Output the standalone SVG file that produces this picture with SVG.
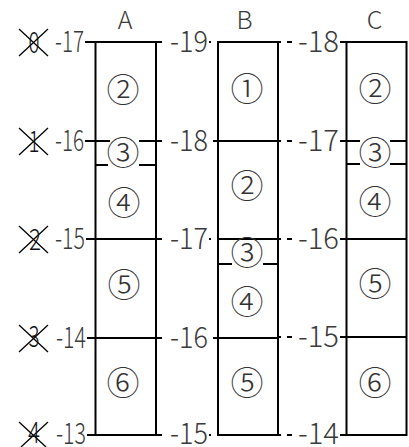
<svg xmlns="http://www.w3.org/2000/svg" width="409" height="447" viewBox="0 0 409 447">
<style>
.bg{fill:#fff}
.edge{fill:none;stroke:#000;stroke-width:2}
.ln{stroke:#000;stroke-width:2;fill:none}
.x{stroke:#000;stroke-width:1.3}
.lbl{font-family:"Noto Sans CJK JP",Roboto,sans-serif;font-weight:300;font-size:30px;fill:#3a3a3a}
.ttl{font-family:"Noto Sans CJK JP",Roboto,sans-serif;font-weight:300;font-size:25px;fill:#3a3a3a;text-anchor:middle}
.dig{font-family:"Noto Sans CJK JP",Roboto,sans-serif;font-weight:300;font-size:30px;fill:#111;text-anchor:middle}
.cn{font-family:"Noto Sans CJK JP","DejaVu Sans",sans-serif;font-weight:300;font-size:33px;fill:#333;text-anchor:middle}
</style>
<rect class="bg" x="0" y="0" width="409" height="447"/>

<g id="titles">
<text class="ttl" x="125" y="29">A</text>
<text class="ttl" x="244.5" y="29">B</text>
<text class="ttl" x="374.5" y="29">C</text>
</g>

<g id="removed-marks">
<g id="mark0"><line class="x" x1="19" y1="29" x2="48" y2="56"/><line class="x" x1="48" y1="29" x2="19" y2="56"/><text class="dig" x="34" y="53" textLength="11" lengthAdjust="spacingAndGlyphs">0</text></g>
<g id="mark1"><line class="x" x1="19" y1="128" x2="48" y2="155"/><line class="x" x1="48" y1="128" x2="19" y2="155"/><text class="dig" x="34" y="152" textLength="11" lengthAdjust="spacingAndGlyphs">1</text></g>
<g id="mark2"><line class="x" x1="19" y1="226" x2="48" y2="253"/><line class="x" x1="48" y1="226" x2="19" y2="253"/><text class="dig" x="35" y="250" textLength="12" lengthAdjust="spacingAndGlyphs">2</text></g>
<g id="mark3"><line class="x" x1="19" y1="325" x2="48" y2="352"/><line class="x" x1="48" y1="325" x2="19" y2="352"/><text class="dig" x="34" y="347" textLength="11" lengthAdjust="spacingAndGlyphs">3</text></g>
<g id="mark4"><line class="x" x1="19" y1="422" x2="46" y2="447"/><line class="x" x1="48" y1="422" x2="21" y2="447"/><text class="dig" x="34" y="443" textLength="12" lengthAdjust="spacingAndGlyphs">4</text></g>
</g>

<g id="labels-A">
<text class="lbl" x="55" y="52" textLength="29" lengthAdjust="spacingAndGlyphs">-17</text>
<text class="lbl" x="55" y="151" textLength="29" lengthAdjust="spacingAndGlyphs">-16</text>
<text class="lbl" x="55" y="249" textLength="30" lengthAdjust="spacingAndGlyphs">-15</text>
<text class="lbl" x="56" y="348" textLength="30" lengthAdjust="spacingAndGlyphs">-14</text>
<text class="lbl" x="56" y="444" textLength="30" lengthAdjust="spacingAndGlyphs">-13</text>
</g>

<g id="labels-B">
<text class="lbl" x="170" y="52" textLength="38" lengthAdjust="spacingAndGlyphs">-19</text>
<text class="lbl" x="170" y="151" textLength="38" lengthAdjust="spacingAndGlyphs">-18</text>
<text class="lbl" x="170" y="249" textLength="38" lengthAdjust="spacingAndGlyphs">-17</text>
<text class="lbl" x="170" y="348" textLength="38" lengthAdjust="spacingAndGlyphs">-16</text>
<text class="lbl" x="170" y="444" textLength="38" lengthAdjust="spacingAndGlyphs">-15</text>
</g>

<g id="labels-C">
<text class="lbl" x="298" y="52" textLength="41" lengthAdjust="spacingAndGlyphs">-18</text>
<text class="lbl" x="298" y="151" textLength="41" lengthAdjust="spacingAndGlyphs">-17</text>
<text class="lbl" x="298" y="249" textLength="41" lengthAdjust="spacingAndGlyphs">-16</text>
<text class="lbl" x="298" y="347" textLength="41" lengthAdjust="spacingAndGlyphs">-15</text>
<text class="lbl" x="298" y="444" textLength="41" lengthAdjust="spacingAndGlyphs">-14</text>
</g>

<g id="connectors">
<line class="ln" x1="85" y1="42" x2="95.5" y2="42"/>
<line class="ln" x1="85" y1="141" x2="95.5" y2="141"/>
<line class="ln" x1="86" y1="239" x2="95.5" y2="239"/>
<line class="ln" x1="87" y1="338" x2="95.5" y2="338"/>
<line class="ln" x1="87" y1="435" x2="95.5" y2="435"/>
<line class="ln" x1="156" y1="42" x2="162" y2="42"/>
<line class="ln" x1="209" y1="42" x2="211" y2="42"/>
<line class="ln" x1="156" y1="141" x2="162" y2="141"/>
<line class="ln" x1="213" y1="141" x2="218" y2="141"/>
<line class="ln" x1="156" y1="239" x2="162" y2="239"/>
<line class="ln" x1="209" y1="239" x2="211" y2="239"/>
<line class="ln" x1="156" y1="338" x2="162" y2="338"/>
<line class="ln" x1="213" y1="338" x2="218" y2="338"/>
<line class="ln" x1="156" y1="435" x2="162" y2="435"/>
<line class="ln" x1="209" y1="435" x2="211" y2="435"/>
<line class="ln" x1="278" y1="42" x2="281" y2="42"/>
<line class="ln" x1="287" y1="42" x2="292" y2="42"/>
<line class="ln" x1="340" y1="42" x2="346.5" y2="42"/>
<line class="ln" x1="278" y1="141" x2="281" y2="141"/>
<line class="ln" x1="287" y1="141" x2="292" y2="141"/>
<line class="ln" x1="340" y1="141" x2="346.5" y2="141"/>
<line class="ln" x1="278" y1="239" x2="281" y2="239"/>
<line class="ln" x1="287" y1="239" x2="292" y2="239"/>
<line class="ln" x1="340" y1="239" x2="346.5" y2="239"/>
<line class="ln" x1="278" y1="337" x2="281" y2="337"/>
<line class="ln" x1="287" y1="337" x2="292" y2="337"/>
<line class="ln" x1="340" y1="337" x2="346.5" y2="337"/>
<line class="ln" x1="278" y1="435" x2="281" y2="435"/>
<line class="ln" x1="287" y1="435" x2="292" y2="435"/>
<line class="ln" x1="340" y1="435" x2="346.5" y2="435"/>
</g>

<g id="column-A">
<rect class="edge" x="95.5" y="42" width="60.5" height="393"/>
<line class="ln" x1="95.5" y1="141" x2="110" y2="141"/>
<line class="ln" x1="139" y1="141" x2="156" y2="141"/>
<line class="ln" x1="95.5" y1="165" x2="108" y2="165"/>
<line class="ln" x1="139" y1="165" x2="156" y2="165"/>
<line class="ln" x1="95.5" y1="239" x2="156" y2="239"/>
<line class="ln" x1="95.5" y1="338" x2="156" y2="338"/>
<g id="A2"><text class="cn" x="123" y="102.4">②</text></g>
<g id="A3"><text class="cn" x="123" y="165.4">③</text></g>
<g id="A4"><text class="cn" x="124" y="215.4">④</text></g>
<g id="A5"><text class="cn" x="124" y="297.4">⑤</text></g>
<g id="A6"><text class="cn" x="123" y="395.4">⑥</text></g>
</g>

<g id="column-B">
<rect class="edge" x="218" y="42" width="60" height="393"/>
<line class="ln" x1="218" y1="141" x2="278" y2="141"/>
<line class="ln" x1="218" y1="239" x2="278" y2="239"/>
<line class="ln" x1="218" y1="264" x2="232" y2="264"/>
<line class="ln" x1="263" y1="264" x2="278" y2="264"/>
<line class="ln" x1="218" y1="338" x2="278" y2="338"/>
<g id="B1"><text class="cn" x="247" y="101.4">①</text></g>
<g id="B2"><text class="cn" x="247" y="198.4">②</text></g>
<g id="B3"><text class="cn" x="247" y="265.4">③</text></g>
<g id="B4"><text class="cn" x="247" y="314.4">④</text></g>
<g id="B5"><text class="cn" x="247" y="395.4">⑤</text></g>
</g>

<g id="column-C">
<rect class="edge" x="346.5" y="42" width="60" height="393"/>
<line class="ln" x1="346.5" y1="141" x2="360" y2="141"/>
<line class="ln" x1="390" y1="141" x2="406.5" y2="141"/>
<line class="ln" x1="346.5" y1="164" x2="360" y2="164"/>
<line class="ln" x1="390" y1="164" x2="406.5" y2="164"/>
<line class="ln" x1="346.5" y1="239" x2="406.5" y2="239"/>
<line class="ln" x1="346.5" y1="337" x2="406.5" y2="337"/>
<g id="C2"><text class="cn" x="375" y="101.4">②</text></g>
<g id="C3"><text class="cn" x="375" y="165.4">③</text></g>
<g id="C4"><text class="cn" x="375" y="214.4">④</text></g>
<g id="C5"><text class="cn" x="375" y="296.4">⑤</text></g>
<g id="C6"><text class="cn" x="375" y="395.4">⑥</text></g>
</g>
</svg>
